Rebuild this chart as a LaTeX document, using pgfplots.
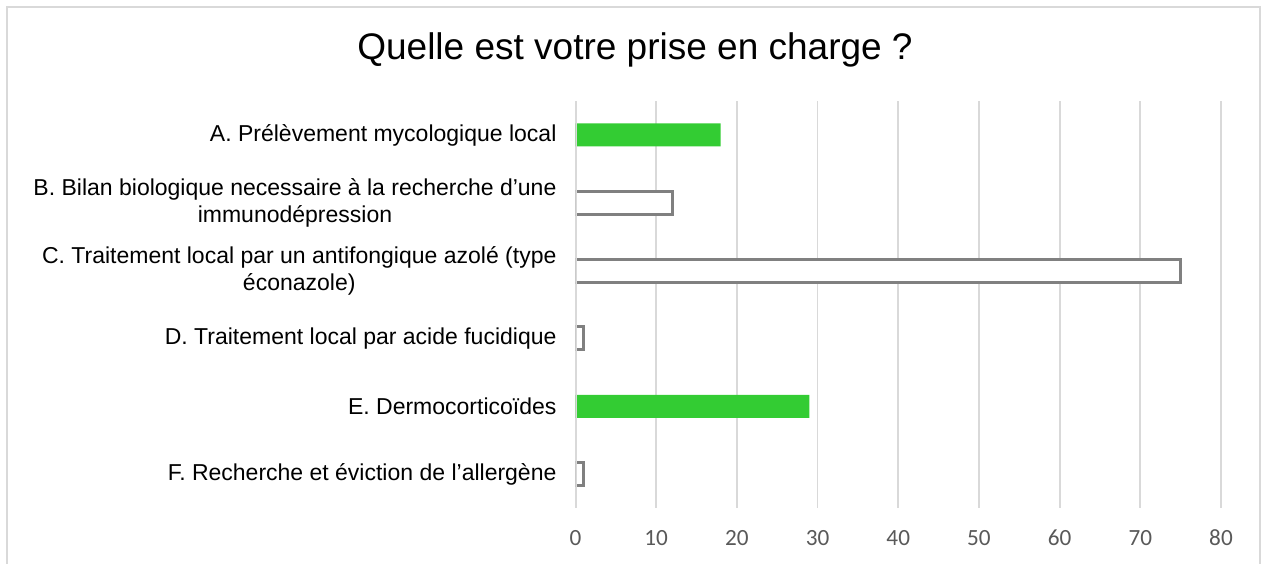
\documentclass[border=0pt]{standalone}
\usepackage{fontspec}
\setmainfont{Liberation Sans}
\newfontfamily\carlito{Carlito}
\usepackage{pgfplots}
\pgfplotsset{compat=1.18}
\definecolor{grn}{RGB}{51,204,51}
\definecolor{barline}{RGB}{128,128,128}
\definecolor{gridc}{RGB}{217,217,217}
\definecolor{tickc}{RGB}{89,89,89}
\begin{document}
\begin{tikzpicture}[x=1pt,y=1pt]
\useasboundingbox (0,0) rectangle (630.5,281.5);
\draw[gridc, line width=0.75pt] (3.5,-2) -- (3.5,278) -- (630,278) -- (630,-2);
\node[font=\fontsize{18.5}{22}\selectfont] at (317.5,256.5) {Quelle est votre prise en charge ?};
\begin{axis}[
  at={(287.75pt,27.5pt)}, anchor=south west,
  width=322.75pt, height=203.5pt, scale only axis,
  xmin=0, xmax=80, ymin=0.5, ymax=6.5, y dir=reverse,
  xtick={0,10,...,80}, ytick={1,2,3,4,5,6},
  yticklabels={{A. Prélèvement mycologique local},
    {B. Bilan biologique necessaire à la recherche d’une\\immunodépression},
    {C. Traitement local par un antifongique azolé (type\\éconazole)},
    {D. Traitement local par acide fucidique},
    {E. Dermocorticoïdes},
    {F. Recherche et éviction de l’allergène}},
  axis line style={draw=none},
  major tick length=0pt,
  xmajorgrids, grid style={gridc, line width=0.9pt},
  xbar, bar width=11.5pt, bar shift=0pt,
  /pgf/number format/assume math mode=true,
  xticklabel style={font=\carlito\fontsize{11.6}{13}\selectfont, text=tickc, yshift=-7.5pt},
  yticklabel style={font=\fontsize{11.5}{13.5}\selectfont, align=center, xshift=-6pt},
]
\addplot[fill=grn, draw=none] coordinates {(18,1) (29,5)};
\addplot[fill=white, draw=barline, line width=1.5pt] coordinates {(12,2) (75,3) (1,4) (1,6)};
\draw[gridc, line width=1.6pt] (axis cs:0,0.5) -- (axis cs:0,6.5);
\end{axis}
\end{tikzpicture}
\end{document}
